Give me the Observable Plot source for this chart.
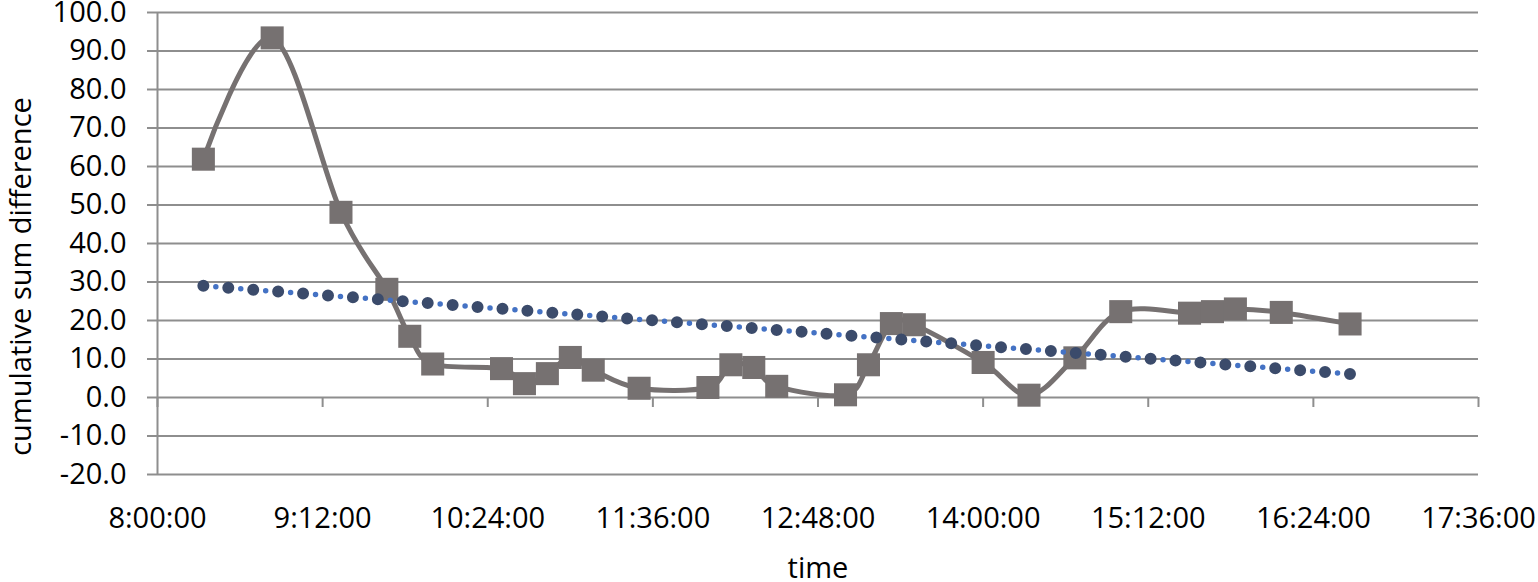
<!DOCTYPE html>
<html>
<head>
<meta charset="utf-8">
<script src="https://cdn.jsdelivr.net/npm/d3@7"></script>
<script src="https://cdn.jsdelivr.net/npm/@observablehq/plot@0.6"></script>
<style>
  html, body { margin: 0; padding: 0; background: #fff; }
</style>
</head>
<body>
<div id="chart"></div>
<script>
// ---- data ----
const times = ["8:20","8:50","9:20","9:40","9:50","10:00","10:30","10:40","10:50","11:00","11:10","11:30","12:00","12:10","12:20","12:30","13:00","13:10","13:20","13:30","14:00","14:20","14:40","15:00","15:30","15:40","15:50","16:10","16:40"];
const values = [61.9,93.4,48.1,28.1,15.9,8.7,7.5,3.6,6.2,10.4,7.1,2.4,2.6,8.5,7.8,2.9,0.7,8.5,19.2,18.9,9.1,0.6,10.3,22.3,21.9,22.3,23.0,22.1,19.1];
const trendTimes = ["8:20","16:40"];
const trendValues = [29.0, 6.1];
const xTickLabels = ["8:00:00","9:12:00","10:24:00","11:36:00","12:48:00","14:00:00","15:12:00","16:24:00","17:36:00"];
const yTicks = [-20,-10,0,10,20,30,40,50,60,70,80,90,100];
const xTitle = "time";
const yTitle = "cumulative sum difference";

// ---- build tables ----
const parseHM = d3.utcParse("%H:%M");
const parseHMS = d3.utcParse("%H:%M:%S");
const series = times.map((t, i) => ({time: parseHM(t), value: values[i]}));
const trend = trendTimes.map((t, i) => ({time: parseHM(t), value: trendValues[i]}));
const xTicks = xTickLabels.map(parseHMS);

const grid = "#8e8e8e";
const seriesColor = "#767171";

const chart = Plot.plot({
  width: 1538,
  height: 582,
  marginLeft: 157,
  marginRight: 60,
  marginTop: 12,
  marginBottom: 108,
  style: {fontFamily: "'Open Sans', sans-serif", fontSize: "29px", color: "#000", background: "#fff", overflow: "visible"},
  x: {type: "utc", domain: [xTicks[0], xTicks[xTicks.length - 1]]},
  y: {domain: [yTicks[0], yTicks[yTicks.length - 1]]},
  marks: [
    Plot.ruleY(yTicks, {stroke: grid, strokeWidth: 2}),
    Plot.ruleX([xTicks[0]], {stroke: grid, strokeWidth: 2}),
    Plot.ruleX(xTicks, {y1: 0, y2: 0, insetBottom: -10, stroke: grid, strokeWidth: 2}),
    Plot.axisY({ticks: yTicks, tickSize: 10, tickPadding: 21, tickFormat: d => d.toFixed(1), stroke: grid, strokeWidth: 2, label: null}),
    Plot.axisX({ticks: xTicks, tickSize: 0, tickPadding: 33, tickFormat: d3.utcFormat("%-H:%M:%S"), label: null}),
    Plot.line(series, {x: "time", y: "value", curve: "cardinal", stroke: seriesColor, strokeWidth: 5}),
    Plot.dot(series, {x: "time", y: "value", symbol: "square", r: 13, fill: seriesColor, stroke: "none"}),
    Plot.line(trend, {x: "time", y: "value", stroke: "#3b4b6b", strokeWidth: 12, strokeLinecap: "round", strokeDasharray: "0 25"}),
    Plot.line(trend, {x: "time", y: "value", stroke: "#4472c4", strokeWidth: 5.5, strokeLinecap: "round", strokeDasharray: "0 25", strokeDashoffset: -12.5}),
    Plot.text([xTitle], {text: d => d, frameAnchor: "bottom", dy: 94, lineAnchor: "middle"}),
    Plot.text([yTitle], {text: d => d, frameAnchor: "left", dx: -136, dy: 33, rotate: -90, textAnchor: "middle", lineAnchor: "middle"})
  ]
});
document.getElementById("chart").appendChild(chart);
</script>
</body>
</html>
